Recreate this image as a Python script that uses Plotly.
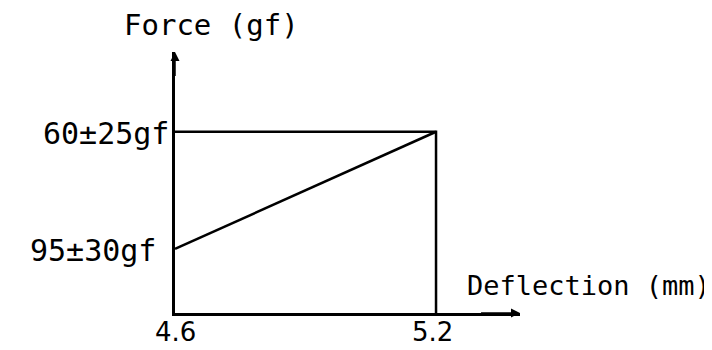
import plotly.graph_objects as go

# schematic force-deflection curve (y is a drawing scale, labels carry the values)
deflection = [4.6, 5.2]
force_curve = [0.354, 1.0]
force_box_x = [4.6, 5.2, 5.2]
force_box_y = [1.0, 1.0, 0.0]
x_ticks = [4.6, 5.2]
x_ticktext = ["4.6", "5.2"]
y_ticks = [0.354, 1.0]
y_ticktext = ["95±30gf", "60±25gf"]

# label nudges as drawn in the original sketch
x_label_shift = [0, -4]
y_label_shift = [-17, -4]

FONT = "DejaVu Sans Mono"
NUM_FONT = "DejaVu Sans"
x_max = 5.393
y_max = 1.44

fig = go.Figure()
fig.add_trace(go.Scatter(x=force_box_x, y=force_box_y, mode="lines",
                         line=dict(color="black", width=2.5), cliponaxis=False))
fig.add_trace(go.Scatter(x=deflection, y=force_curve, mode="lines",
                         line=dict(color="black", width=2.5), cliponaxis=False))

# axis arrows
fig.add_annotation(x=x_max, y=0, ax=5.3, ay=0, xref="x", yref="y", axref="x", ayref="y",
                   showarrow=True, arrowhead=2, arrowsize=1.2, arrowwidth=1.5,
                   arrowcolor="black", text="")
fig.add_annotation(x=4.6, y=y_max, ax=4.6, ay=1.3, xref="x", yref="y", axref="x", ayref="y",
                   showarrow=True, arrowhead=2, arrowsize=1.2, arrowwidth=1.5,
                   arrowcolor="black", text="")

# tick labels
for xv, txt, sh in zip(x_ticks, x_ticktext, x_label_shift):
    fig.add_annotation(x=xv, y=0, xref="x", yref="y", text=txt, showarrow=False,
                       xanchor="center", yanchor="middle", xshift=sh, yshift=-19,
                       font=dict(family=NUM_FONT, size=26, color="black"))
for yv, txt, sh in zip(y_ticks, y_ticktext, y_label_shift):
    fig.add_annotation(x=4.6, y=yv, xref="x", yref="y", text=txt, showarrow=False,
                       xanchor="right", yanchor="middle", xshift=sh, yshift=-2,
                       font=dict(family=FONT, size=30, color="black"))

fig.add_annotation(xref="paper", yref="paper", x=-53 / 345, y=1 + 27 / 261,
                   xanchor="left", yanchor="middle", text="Force (gf)",
                   showarrow=False, font=dict(family=FONT, size=29, color="black"))
fig.add_annotation(xref="paper", yref="paper", x=290 / 345, y=28 / 261,
                   xanchor="left", yanchor="middle", text="Deflection (mm)",
                   showarrow=False, font=dict(family=FONT, size=27, color="black"))

# page body adds an 8px offset, so the figure is a bit smaller than the window
fig.update_layout(
    width=704, height=342,
    margin=dict(l=167, r=192, t=44, b=37),
    paper_bgcolor="white", plot_bgcolor="white",
    showlegend=False,
    xaxis=dict(range=[4.6, x_max], showgrid=False, zeroline=False, automargin=False,
               showline=True, linecolor="black", linewidth=2.5,
               showticklabels=False, ticks=""),
    yaxis=dict(range=[0, y_max], showgrid=False, zeroline=False, automargin=False,
               showline=True, linecolor="black", linewidth=2.5,
               showticklabels=False, ticks=""),
)

fig.write_html("out.html")
